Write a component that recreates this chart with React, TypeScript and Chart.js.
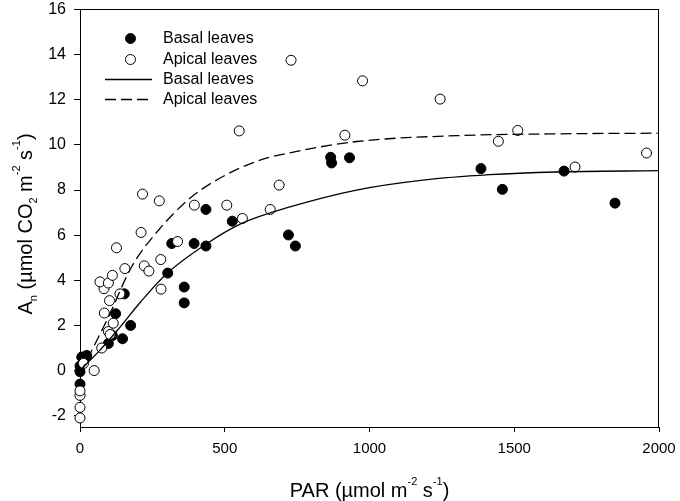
import React, { useEffect, useRef } from 'react'
import { Chart, registerables } from 'chart.js'
import type { Plugin } from 'chart.js'

Chart.register(...registerables)

const FONT = 'Arial, "Liberation Sans", Helvetica, sans-serif'

// measured An vs PAR, basal leaves (filled circles)
const basalPar = [0, 0, 0, 6, 23, 17, 98, 112, 147, 123, 175, 153, 303, 317, 360, 360, 394, 435, 435, 526, 720, 744, 866, 869, 931, 1385, 1459, 1672, 1848]
const basalAn = [-0.6, -0.05, 0.2, 0.6, 0.67, 0.59, 1.2, 1.55, 1.41, 2.52, 2.0, 3.4, 4.32, 5.63, 3.7, 3.0, 5.63, 5.52, 7.14, 6.62, 6.01, 5.52, 9.45, 9.2, 9.43, 8.95, 8.03, 8.84, 7.42]

// measured An vs PAR, apical leaves (open circles)
const apicalPar = [0, 0, 0, 0, 12, 49, 75, 98, 104, 115, 84, 102, 138, 83, 69, 98, 112, 155, 126, 222, 238, 279, 280, 337, 211, 216, 274, 395, 507, 561, 550, 657, 688, 729, 976, 1244, 915, 1512, 1445, 1710, 1957]
const apicalAn = [-2.1, -1.63, -1.1, -0.9, 0.32, 0.0, 1.0, 1.73, 1.6, 2.1, 2.55, 3.1, 3.4, 3.63, 3.93, 3.88, 4.22, 4.52, 5.44, 4.64, 4.41, 4.92, 3.61, 5.72, 6.12, 7.82, 7.52, 7.33, 7.33, 6.74, 10.62, 7.14, 8.22, 13.75, 12.84, 12.03, 10.43, 10.64, 10.16, 9.02, 9.64]

// fitted light-response curves
const basalFitPar = [0, 30, 65, 130, 210, 300, 435, 555, 725, 955, 1185, 1415, 1645, 2000]
const basalFitAn = [0.0, 0.4, 0.85, 1.8, 3.05, 4.3, 5.6, 6.5, 7.25, 8.0, 8.44, 8.68, 8.8, 8.86]
const apicalFitPar = [0, 6, 29, 98, 178, 271, 386, 501, 616, 725, 956, 1301, 1647, 2000]
const apicalFitAn = [-0.15, 0.0, 0.59, 2.37, 4.59, 6.22, 7.7, 8.65, 9.3, 9.65, 10.15, 10.41, 10.49, 10.52]

const xTicks = [0, 500, 1000, 1500, 2000]
const yTicks = [-2, 0, 2, 4, 6, 8, 10, 12, 14, 16]

const seriesLabels = ['Basal leaves', 'Apical leaves']

type Seg = [string, 'n' | 'sub' | 'sup']
const xTitle: Seg[] = [['PAR (\u00b5mol m', 'n'], ['-2', 'sup'], [' s', 'n'], ['-1', 'sup'], [')', 'n']]
const yTitle: Seg[] = [
  ['A', 'n'], ['n', 'sub'], [' (\u00b5mol CO', 'n'], ['2', 'sub'], [' m', 'n'],
  ['-2', 'sup'], [' s', 'n'], ['-1', 'sup'], [')', 'n'],
]

const toXY = (xs: number[], ys: number[]) => xs.map((x, i) => ({ x, y: ys[i] }))

function drawRich(ctx: CanvasRenderingContext2D, segs: Seg[], cx: number, baseline: number) {
  const fontFor = (k: string) => (k === 'n' ? `20px ${FONT}` : `11px ${FONT}`)
  const widths = segs.map(([t, k]) => {
    ctx.font = fontFor(k)
    return ctx.measureText(t).width
  })
  let x = cx - widths.reduce((a, b) => a + b, 0) / 2
  ctx.textAlign = 'left'
  ctx.textBaseline = 'alphabetic'
  segs.forEach(([t, k], i) => {
    ctx.font = fontFor(k)
    const dy = k === 'sub' ? 5 : k === 'sup' ? -12 : 0
    ctx.fillText(t, x, baseline + dy)
    x += widths[i]
  })
}

// top/right frame, axis titles and the in-plot legend
const decorations: Plugin = {
  id: 'decorations',
  afterDraw(chart) {
    const { ctx, chartArea: a } = chart
    ctx.save()
    ctx.setLineDash([])
    ctx.fillStyle = '#000'
    const l = Math.round(a.left)
    const t = Math.floor(a.top)
    const r = Math.round(a.right)
    const b = Math.round(a.bottom)
    ctx.fillRect(l, t, r - l, 1)
    ctx.fillRect(r - 1, t, 1, b - t)

    drawRich(ctx, xTitle, (a.left + a.right) / 2, 497)
    ctx.save()
    ctx.translate(32, 224)
    ctx.rotate(-Math.PI / 2)
    drawRich(ctx, yTitle, 0, 0)
    ctx.restore()

    // legend
    const textX = a.left + 83
    const rows = [29, 50, 70, 90].map((d) => a.top + d)
    ctx.font = `16px ${FONT}`
    ctx.textAlign = 'left'
    ctx.textBaseline = 'middle'
    ctx.strokeStyle = '#000'
    chart.data.datasets.forEach((ds: any, i) => {
      const y = rows[i]
      if (ds.showLine) {
        ctx.beginPath()
        ctx.setLineDash(ds.borderDash || [])
        ctx.lineWidth = ds.borderWidth
        ctx.moveTo(a.left + 25, y)
        ctx.lineTo(a.left + 72, y)
        ctx.stroke()
        ctx.setLineDash([])
      } else {
        ctx.beginPath()
        ctx.arc(a.left + 50.5, y, 5, 0, Math.PI * 2)
        ctx.fillStyle = ds.backgroundColor
        ctx.fill()
        ctx.lineWidth = 1
        ctx.stroke()
      }
      ctx.fillStyle = '#000'
      ctx.fillText(ds.label, textX, y + 0.5)
    })
    ctx.restore()
  },
}

const LightResponseChart: React.FC = () => {
  const canvasRef = useRef<HTMLCanvasElement>(null)

  useEffect(() => {
    const canvas = canvasRef.current
    if (!canvas) return

    const pointStyle = {
      pointRadius: 5,
      pointHoverRadius: 5,
      borderColor: '#000',
      borderWidth: 1,
      showLine: false,
      clip: false as const,
    }
    const lineStyle = {
      showLine: true,
      pointRadius: 0,
      borderColor: '#000',
      backgroundColor: 'transparent',
      borderWidth: 1.3,
      cubicInterpolationMode: 'monotone' as const,
      clip: false as const,
    }

    const chart = new Chart(canvas, {
      type: 'scatter',
      data: {
        datasets: [
          { ...pointStyle, label: seriesLabels[0], data: toXY(basalPar, basalAn), backgroundColor: '#000', pointBackgroundColor: '#000', order: 3 },
          { ...pointStyle, label: seriesLabels[1], data: toXY(apicalPar, apicalAn), backgroundColor: '#fff', pointBackgroundColor: '#fff', order: 2 },
          { ...lineStyle, label: seriesLabels[0], data: toXY(basalFitPar, basalFitAn), order: 1 },
          { ...lineStyle, label: seriesLabels[1], data: toXY(apicalFitPar, apicalFitAn), borderDash: [11, 5], order: 0 },
        ],
      },
      options: {
        animation: false,
        responsive: false,
        events: [],
        layout: { padding: { top: 9.5, right: 21, bottom: 0, left: 0 } },
        plugins: {
          legend: { display: false },
          tooltip: { enabled: false },
        },
        scales: {
          x: {
            type: 'linear',
            min: 0,
            max: 2000,
            afterBuildTicks: (s) => {
              s.ticks = xTicks.map((value) => ({ value }))
            },
            afterFit: (s: any) => {
              s.height = 74
              s.paddingLeft = 0
              s.paddingRight = 0
            },
            grid: { drawOnChartArea: false, drawTicks: true, tickLength: 5, color: '#000' },
            border: { display: true, color: '#000', width: 1 },
            ticks: { color: '#000', padding: 8, font: { family: FONT, size: 15 }, callback: (v) => String(v) },
          },
          y: {
            type: 'linear',
            min: -2.5,
            max: 16,
            afterBuildTicks: (s) => {
              s.ticks = yTicks.map((value) => ({ value }))
            },
            afterFit: (s: any) => {
              s.width = 80
              s.paddingTop = 0
              s.paddingBottom = 0
            },
            grid: { drawOnChartArea: false, drawTicks: true, tickLength: 6, color: '#000' },
            border: { display: true, color: '#000', width: 1 },
            ticks: { color: '#000', padding: 8, font: { family: FONT, size: 16 }, callback: (v) => String(v) },
          },
        },
      },
      plugins: [decorations],
    })

    return () => {
      chart.destroy()
    }
  }, [])

  return <canvas ref={canvasRef} width={680} height={501} />
}

export default function App() {
  return (
    <div style={{ position: 'fixed', left: 0, top: 0, width: 680, height: 501, background: '#fff' }}>
      <LightResponseChart />
    </div>
  )
}
